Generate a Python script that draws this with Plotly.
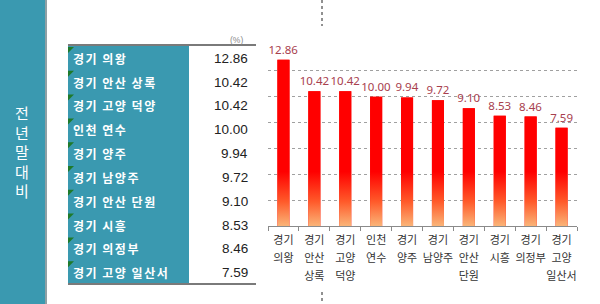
import plotly.graph_objects as go

# ---- data ----
regions_table = ["경기 의왕", "경기 안산 상록", "경기 고양 덕양", "인천 연수", "경기 양주",
                 "경기 남양주", "경기 안산 단원", "경기 시흥", "경기 의정부", "경기 고양 일산서"]
tick_labels = ["경기<br>의왕", "경기<br>안산<br>상록", "경기<br>고양<br>덕양", "인천<br>연수",
               "경기<br>양주", "경기<br>남양주", "경기<br>안산<br>단원", "경기<br>시흥",
               "경기<br>의정부", "경기<br>고양<br>일산서"]
values = [12.86, 10.42, 10.42, 10.00, 9.94, 9.72, 9.10, 8.53, 8.46, 7.59]
side_title = "전년말대비"
unit_label = "(%)"

W, H = 600, 304
def px(x):
    return x / W
def py(y):
    return 1 - y / H

TEAL = "#3A99B0"
KR = "Noto Sans CJK KR"
BAR_W = 0.39
xs = list(range(len(values)))

fig = go.Figure()

# base bars (solid red), with data labels
fig.add_trace(go.Bar(
    x=xs, y=values, width=BAR_W, marker=dict(color="#FF0000", line=dict(width=0)),
    text=[f"{v:.2f}" for v in values], textposition="outside", cliponaxis=False,
    constraintext="none", textangle=0,
    textfont=dict(family="Noto Sans", size=11.5, color="#A8404E"),
    hoverinfo="skip", showlegend=False,
))

# gradient overlay on each bar (orange at base -> red)
for x, v in zip(xs, values):
    fig.add_trace(go.Scatter(
        x=[x - BAR_W / 2, x + BAR_W / 2, x + BAR_W / 2, x - BAR_W / 2, x - BAR_W / 2],
        y=[0, 0, v, v, 0], mode="lines", line=dict(width=0), fill="toself",
        fillgradient=dict(type="vertical", start=0, stop=4.2,
                          colorscale=[[0, "#FAB478"], [0.45, "#FF5A2A"], [1, "#FF0000"]]),
        hoverinfo="skip", showlegend=False,
    ))

shapes = []
# left teal panel + border
shapes.append(dict(type="rect", xref="paper", yref="paper", x0=0, x1=px(45), y0=0, y1=1,
                   fillcolor=TEAL, line=dict(width=0), layer="below"))
shapes.append(dict(type="line", xref="paper", yref="paper", x0=px(46), x1=px(46), y0=0, y1=1,
                   line=dict(color="#8FA0A4", width=2)))
# table teal column
TOP, ROWH = 46, 23.8
shapes.append(dict(type="rect", xref="paper", yref="paper", x0=px(68), x1=px(189),
                   y0=py(TOP + ROWH * len(regions_table)), y1=py(TOP),
                   fillcolor=TEAL, line=dict(width=0), layer="below"))
# table rules
shapes.append(dict(type="line", xref="paper", yref="paper", x0=px(68), x1=px(256), y0=py(45), y1=py(45),
                   line=dict(color="#7A7A7A", width=2)))
shapes.append(dict(type="line", xref="paper", yref="paper", x0=px(68), x1=px(256), y0=py(284), y1=py(284),
                   line=dict(color="#7A7A7A", width=2)))
# green corner triangles
for i in range(len(regions_table)):
    t = TOP + ROWH * i + 1
    shapes.append(dict(type="path", xref="paper", yref="paper",
                       path=f"M {px(68)} {py(t)} L {px(74)} {py(t)} L {px(68)} {py(t + 6)} Z",
                       fillcolor="#1F7A2A", line=dict(width=0)))
# dotted vertical guide lines
shapes.append(dict(type="line", xref="paper", yref="paper", x0=px(322), x1=px(322), y0=py(0), y1=py(26),
                   line=dict(color="#222", width=1, dash="dot")))
shapes.append(dict(type="line", xref="paper", yref="paper", x0=px(322), x1=px(322), y0=py(292), y1=py(304),
                   line=dict(color="#222", width=1, dash="dot")))

annotations = []
annotations.append(dict(xref="paper", yref="paper", x=px(22), y=py(151), xanchor="center", yanchor="middle",
                        text="<br>".join(list(side_title)), showarrow=False,
                        font=dict(family=KR, size=15, color="white")))
for i, (name, v) in enumerate(zip(regions_table, values)):
    yc = TOP + ROWH * i + ROWH / 2 + 0.5
    annotations.append(dict(xref="paper", yref="paper", x=px(71), y=py(yc), xanchor="left", yanchor="middle",
                            text=f'<span style="letter-spacing:1.5px"><b>{name}</b></span>', showarrow=False,
                            font=dict(family=KR, size=12, color="white")))
    annotations.append(dict(xref="paper", yref="paper", x=px(250), y=py(yc), xanchor="right", yanchor="middle",
                            text=f"{v:.2f}", showarrow=False,
                            font=dict(family="Liberation Sans", size=13.5, color="#222")))
annotations.append(dict(xref="paper", yref="paper", x=px(245), y=py(40), xanchor="right", yanchor="middle",
                        text=unit_label, showarrow=False,
                        font=dict(family="Liberation Sans", size=8.5, color="#888")))

fig.update_layout(
    template="none",
    width=W, height=H,
    margin=dict(l=0, r=0, t=0, b=0),
    paper_bgcolor="white", plot_bgcolor="white",
    showlegend=False,
    bargap=0.6,
    shapes=shapes,
    annotations=annotations,
    xaxis=dict(
        domain=[px(268), px(577)], range=[-0.5, len(values) - 0.5],
        tickmode="array", tickvals=xs,
        ticktext=[f'<span style="font-size:11px">{t}</span>' for t in tick_labels],
        tickfont=dict(family=KR, size=14, color="#333"), tickangle=0,
        ticks="", showgrid=False, zeroline=False,
        showline=True, linecolor="#8A8A8A", linewidth=1,
        minor=dict(tickmode="array", tickvals=[i - 0.5 for i in range(len(values) + 1)],
                   ticks="outside", ticklen=4, tickcolor="#8A8A8A", showgrid=False),
        automargin=False, fixedrange=True,
    ),
    yaxis=dict(
        domain=[py(226), py(45)], range=[0, 14], dtick=2, tick0=0,
        showticklabels=False, ticks="", showline=False, zeroline=False,
        showgrid=True, gridcolor="#A0A0A0", gridwidth=1, griddash="dot",
        automargin=False, fixedrange=True,
    ),
)

fig.write_html("out.html")
